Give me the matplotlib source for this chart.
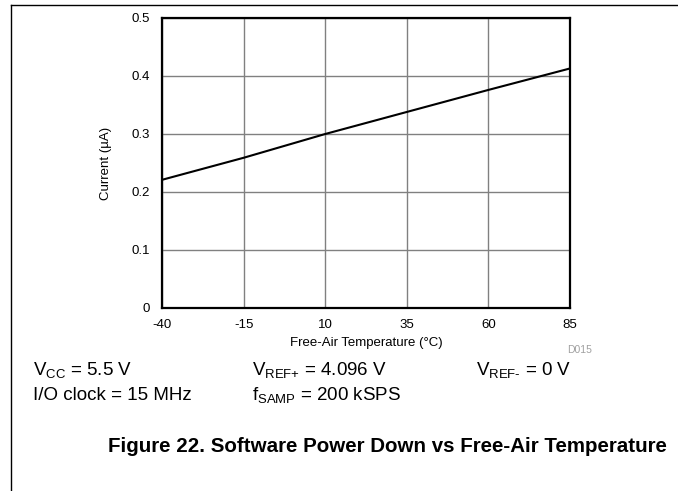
import matplotlib
matplotlib.use("Agg")
import matplotlib.pyplot as plt
from matplotlib.lines import Line2D

plt.rcParams['font.family'] = ['Liberation Sans', 'DejaVu Sans']
plt.rcParams['mathtext.fontset'] = 'custom'
plt.rcParams['mathtext.rm'] = 'Liberation Sans'
plt.rcParams['mathtext.it'] = 'Liberation Sans:italic'
plt.rcParams['mathtext.bf'] = 'Liberation Sans:bold'
plt.rcParams['axes.unicode_minus'] = False

# datos
temperatura = [-40, -15, 10, 35, 60, 85]
corriente = [0.221, 0.259, 0.300, 0.338, 0.376, 0.413]
xticks = [-40, -15, 10, 35, 60, 85]
yticks = [0, 0.1, 0.2, 0.3, 0.4, 0.5]
ytick_labels = ['0', '0.1', '0.2', '0.3', '0.4', '0.5']

W, H = 678, 491
fig = plt.figure(figsize=(W / 100, H / 100), dpi=100)
ax = fig.add_axes([162 / W, 1 - 308 / H, (570 - 162) / W, (308 - 18) / H])

ax.plot(temperatura, corriente, color='black', lw=1.5, zorder=3)
ax.set_xlim(-40, 85)
ax.set_ylim(0, 0.5)
ax.set_xticks(xticks)
ax.set_yticks(yticks)
ax.set_yticklabels(ytick_labels)
ax.tick_params(length=0, labelsize=9.5)
ax.tick_params(axis='x', pad=8)
ax.tick_params(axis='y', pad=9)
ax.grid(True, color='#808080', lw=1)
for s in ax.spines.values():
    s.set_linewidth(1.6)
    s.set_zorder(4)
ax.set_xlabel('Free-Air Temperature (°C)', fontsize=9.5, labelpad=4)
ax.set_ylabel('Current (µA)', fontsize=9.5, labelpad=14)

# marco de la pagina
fig.add_artist(Line2D([11 / W, 1], [1 - 5 / H, 1 - 5 / H], color='black', lw=1, transform=fig.transFigure))
fig.add_artist(Line2D([11 / W, 11 / W], [0, 1 - 5 / H], color='black', lw=1, transform=fig.transFigure))

fig.text(592 / W, 1 - 353 / H, 'D015', fontsize=7.5, color='#a0a0a0', ha='right', va='baseline')

fs = 13.5
fig.text(33 / W, 1 - 375 / H, r'V$_{\mathrm{CC}}$ = 5.5 V', fontsize=fs, va='baseline')
fig.text(252 / W, 1 - 375 / H, r'V$_{\mathrm{REF}\text{+}}$ = 4.096 V', fontsize=fs, va='baseline')
fig.text(476 / W, 1 - 375 / H, r'V$_{\mathrm{REF}\text{-}}$ = 0 V', fontsize=fs, va='baseline')
fig.text(33 / W, 1 - 400 / H, 'I/O clock = 15 MHz', fontsize=fs, va='baseline')
fig.text(252 / W, 1 - 400 / H, r'f$_{\mathrm{SAMP}}$ = 200 kSPS', fontsize=fs, va='baseline')

fig.text(667 / W, 1 - 446 / H, 'Figure 22. Software Power Down vs Free-Air Temperature',
         fontsize=14.8, fontweight='bold', ha='right', va='center')

fig.savefig('out.png', dpi=100)
